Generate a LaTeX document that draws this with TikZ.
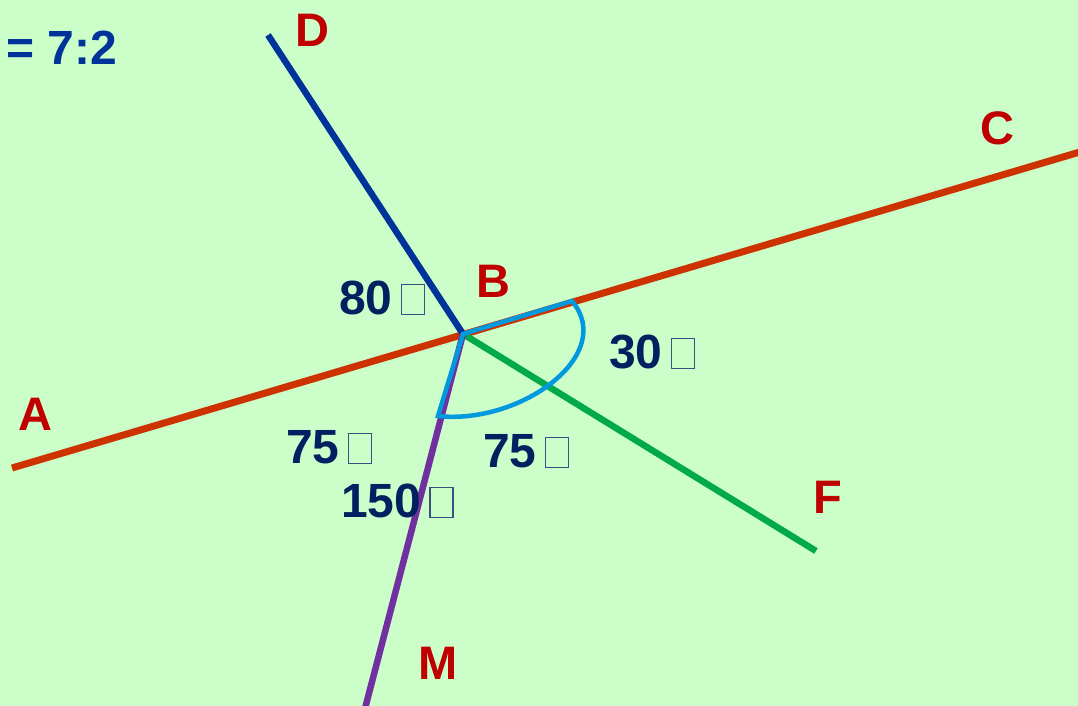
\documentclass[tikz,border=0pt]{standalone}
\usepackage{fontspec}
\setmainfont{Liberation Sans}
\usepackage{tikz}

\definecolor{bgGreen}{HTML}{CCFECA}
\definecolor{lineRed}{HTML}{CC3300}
\definecolor{lineBlue}{HTML}{003399}
\definecolor{lineGreen}{HTML}{00AA4A}
\definecolor{linePurple}{HTML}{7030A0}
\definecolor{arcBlue}{HTML}{0099DD}
\definecolor{labRed}{HTML}{C00000}
\definecolor{labNavy}{HTML}{002060}
\definecolor{tofuGrey}{HTML}{3A5080}

\newcommand{\tofu}{\hspace{0.17em}{\color{tofuGrey}\setlength{\fboxsep}{0pt}\setlength{\fboxrule}{1.4pt}\fbox{\rule{0pt}{0.6em}\hspace{0.45em}}}}

\tikzset{
    pt/.style={font=\fontsize{47}{55}\bfseries\selectfont, text=labRed, inner sep=0pt},
    ang/.style={font=\fontsize{48}{56}\bfseries\selectfont, text=labNavy, inner sep=0pt, anchor=base west}
}

\begin{document}
\begin{tikzpicture}[x=1pt, y=-1pt]
                \useasboundingbox (0, 0) rectangle (1078, 706);
                \fill[bgGreen] (0, 0) rectangle (1078, 706);
                \clip (0, 0) rectangle (1078, 706);

                \coordinate (B) at (463, 334);
                \coordinate (Aend) at (12, 468);
                \coordinate (Cend) at (1090, 149);
                \coordinate (Dend) at (268, 35);
                \coordinate (Fend) at (816, 551);
                \coordinate (Mend) at (362, 720);
                \coordinate (arcC) at (572, 301);
                \coordinate (arcM) at (438, 416);

                \draw[lineRed, line width=7pt] (Aend) -- (Cend);
                \draw[lineBlue, line width=6.5pt] (Dend) -- (B);
                \draw[lineGreen, line width=6.5pt] (B) -- (Fend);
                \draw[linePurple, line width=6.5pt] (B) -- (Mend);

                \draw[arcBlue, line width=4.5pt, line join=miter]
                    (B) -- (arcC) .. controls (617, 355) and (520, 425) .. (arcM) -- cycle;

                % point names
                \node[pt] (nA) at (35, 414) {A};
                \node[pt] (nB) at (493, 281) {B};
                \node[pt] (nC) at (997, 128) {C};
                \node[pt] (nD) at (312, 30) {D};
                \node[pt] (nF) at (828, 497) {F};
                \node[pt] (nM) at (438, 663) {M};

                % angle values
                \node[ang] (a80) at (339, 314) {80\tofu};
                \node[ang] (a30) at (609, 368) {30\tofu};
                \node[ang] (a75l) at (286, 463) {75\tofu};
                \node[ang] (a75r) at (483, 467) {75\tofu};
                \node[ang] (a150) at (341, 517) {150\tofu};

                \node[ang, text=lineBlue] (ratio) at (6, 65) {= 7:2};
            \end{tikzpicture}
\end{document}
